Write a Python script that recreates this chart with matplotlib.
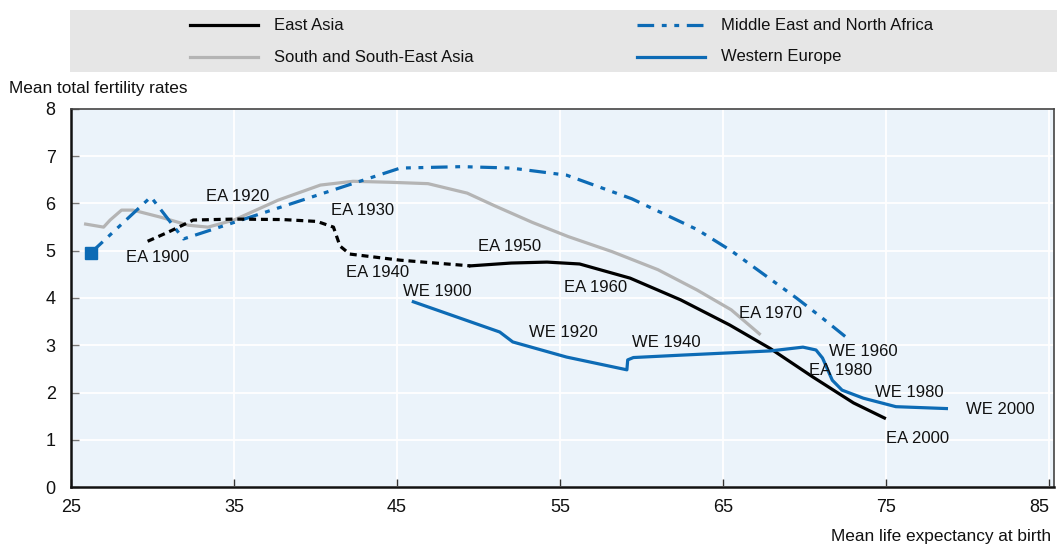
import matplotlib
matplotlib.use("Agg")
import matplotlib.pyplot as plt
from matplotlib.lines import Line2D
from matplotlib.patches import Rectangle

plt.rcParams['font.family'] = ['Liberation Sans', 'DejaVu Sans']
plt.rcParams['lines.scale_dashes'] = False

# ---- data (life expectancy, fertility) ----
ea_dash_x = [29.7, 31.0, 32.5, 35.0, 38.0, 40.1, 41.1, 41.5, 42.1, 45.2, 49.5]
ea_dash_y = [5.20, 5.40, 5.65, 5.67, 5.66, 5.62, 5.50, 5.10, 4.93, 4.80, 4.68]
ea_x = [49.5, 52.0, 54.2, 56.2, 59.3, 62.4, 65.4, 67.9, 70.5, 73.0, 74.9]
ea_y = [4.68, 4.74, 4.76, 4.72, 4.42, 3.96, 3.43, 2.93, 2.33, 1.78, 1.46]

sea_x = [25.8, 27.0, 27.4, 28.1, 28.8, 30.5, 32.2, 33.4, 35.0, 37.7, 40.3, 42.3,
         44.5, 46.9, 49.3, 51.0, 53.3, 55.5, 58.2, 61.0, 63.4, 65.5, 67.3]
sea_y = [5.57, 5.50, 5.65, 5.86, 5.86, 5.71, 5.54, 5.50, 5.65, 6.07, 6.39, 6.47,
         6.45, 6.42, 6.22, 5.95, 5.60, 5.30, 4.98, 4.60, 4.17, 3.75, 3.22]

mena_x = [26.2, 29.9, 31.9, 45.2, 49.0, 52.0, 55.4, 59.4, 63.4, 65.5, 67.5, 69.5, 71.0, 72.8]
mena_y = [4.95, 6.14, 5.25, 6.75, 6.78, 6.75, 6.60, 6.10, 5.45, 5.00, 4.50, 4.00, 3.60, 3.10]

we_x = [46.0, 51.3, 52.1, 55.4, 59.1, 59.15, 59.5, 62.4, 67.9, 69.9, 70.7, 71.1, 71.7,
        72.3, 73.6, 75.6, 78.7]
we_y = [3.92, 3.28, 3.07, 2.75, 2.48, 2.69, 2.74, 2.79, 2.88, 2.96, 2.90, 2.73, 2.26,
        2.05, 1.88, 1.70, 1.66]

labels = ["EA 1900", "EA 1920", "EA 1930", "EA 1940", "EA 1950", "EA 1960", "EA 1970",
          "EA 1980", "EA 2000", "WE 1900", "WE 1920", "WE 1940", "WE 1960", "WE 1980", "WE 2000"]
label_x = [30.3, 35.2, 42.9, 43.8, 51.9, 57.2, 67.9, 72.2, 76.9, 47.5, 55.2, 61.5, 73.6, 76.4, 82.0]
label_y = [4.85, 6.14, 5.86, 4.53, 5.08, 4.23, 3.68, 2.46, 1.02, 4.13, 3.26, 3.05, 2.86, 1.99, 1.63]

x_ticks = [25, 35, 45, 55, 65, 75, 85]
y_ticks = [0, 1, 2, 3, 4, 5, 6, 7, 8]

legend_names = ["East Asia", "South and South-East Asia",
                "Middle East and North Africa", "Western Europe"]

BLACK = "#000000"
GRAY = "#B4B4B4"
BLUE = "#0D6BB5"
BG = "#EBF3FA"
LEGBG = "#E6E6E6"
FS = 12
FS_TICK = 13
FS_AX = 12.4
TXT = '#111111'
DASHDOT = (0, (12, 5.5, 3.5, 5.5, 3.5, 5.5))

fig = plt.figure(figsize=(10.57, 5.47), dpi=100)
ax = fig.add_axes([71/1057, 60/547, 983/1057, 378/547])
ax.set_facecolor(BG)

ax.plot(sea_x, sea_y, color=GRAY, lw=2.3, solid_capstyle='butt', zorder=3)
ax.plot(mena_x, mena_y, color=BLUE, lw=2.3, linestyle=DASHDOT, zorder=4)
ax.plot(mena_x[:1], mena_y[:1], color=BLUE, marker='s', markersize=8, linestyle='none', zorder=5)
ax.plot(ea_dash_x, ea_dash_y, color=BLACK, lw=2.3, linestyle=(0, (5, 3.5)), zorder=4)
ax.plot(ea_x, ea_y, color=BLACK, lw=2.3, zorder=4)
ax.plot(we_x, we_y, color=BLUE, lw=2.3, zorder=4)

for t, x, y in zip(labels, label_x, label_y):
    ax.text(x, y, t, ha='center', va='center', fontsize=FS, color=TXT, zorder=6)

ax.set_xlim(25, 85.3)
ax.set_ylim(0, 8)
ax.set_xticks(x_ticks)
ax.set_yticks(y_ticks)
ax.grid(True, color='white', lw=1.3, zorder=0)
ax.set_axisbelow(True)
ax.tick_params(axis='y', direction='in', length=6, width=1, color='#777777',
               labelsize=FS_TICK, pad=11, labelcolor=TXT)
ax.tick_params(axis='x', direction='in', length=6, width=1, color='#333333',
               labelsize=FS_TICK, pad=9, labelcolor=TXT)
xlabs = ax.get_xticklabels()
xlabs[-1].set_horizontalalignment('right')
for s in ['left', 'bottom']:
    ax.spines[s].set_linewidth(1.8)
    ax.spines[s].set_color('#111111')
for s in ['top', 'right']:
    ax.spines[s].set_linewidth(1.2)
    ax.spines[s].set_color('#444444')

fig.text(9/1057, 1 - 88/547, "Mean total fertility rates", ha='left', va='center',
         fontsize=FS_AX, color=TXT)
fig.text(1051/1057, 1 - 537/547, "Mean life expectancy at birth", ha='right', va='center',
         fontsize=FS_AX, color=TXT)

# legend
fig.add_artist(Rectangle((70/1057, 1 - 72/547), 987/1057, 62/547,
                         transform=fig.transFigure, facecolor=LEGBG, edgecolor='none'))
leg_styles = [dict(color=BLACK, ls='-'), dict(color=GRAY, ls='-'),
              dict(color=BLUE, ls=DASHDOT), dict(color=BLUE, ls='-')]
leg_pos = [(190, 25), (190, 57), (637, 25), (637, 57)]
for name, st, (px, py) in zip(legend_names, leg_styles, leg_pos):
    fig.add_artist(Line2D([px/1057, (px+68)/1057], [1 - py/547, 1 - py/547],
                          transform=fig.transFigure, lw=2.3, color=st['color'],
                          linestyle=st['ls']))
    fig.text((px+84)/1057, 1 - py/547, name, ha='left', va='center',
             fontsize=FS, color=TXT)

fig.savefig("out.png", dpi=100)
